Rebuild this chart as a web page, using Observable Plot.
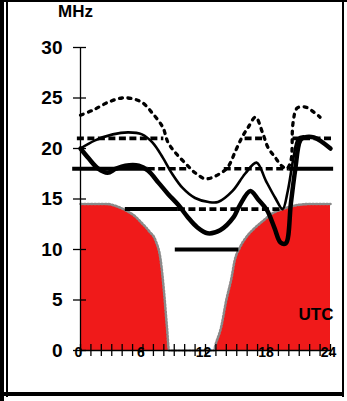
<!DOCTYPE html>
<html>
<head>
<meta charset="utf-8">
<script src="https://cdn.jsdelivr.net/npm/d3@7"></script>
<script src="https://cdn.jsdelivr.net/npm/@observablehq/plot@0.6"></script>
<style>
  html, body { margin: 0; padding: 0; background: #fff; }
  #wrap { position: relative; width: 347px; height: 401px; overflow: hidden; background: #fff; }
  #wrap svg { position: absolute; left: 0; top: 0; }
  .b { position: absolute; background: #000; }
</style>
</head>
<body>
<div id="wrap">
  <div id="chart"></div>
  <div class="b" style="left:0;top:0;width:347px;height:2px"></div>
  <div class="b" style="left:0;top:0;width:4px;height:401px"></div>
  <div class="b" style="left:6px;top:0;width:2px;height:397px"></div>
  <div class="b" style="left:342px;top:0;width:2px;height:397px"></div>
  <div class="b" style="left:0;top:392px;width:344px;height:4px"></div>
</div>
<script>
// ---- data ----
const hourTicks = d3.range(0, 25);
const hourLabels = [0, 6, 12, 18, 24];
const mhzTicks = [0, 5, 10, 15, 20, 25, 30];

// red area (lowest usable frequency)
const lufHour = [0, 1, 2, 2.6, 3.4, 4.3, 5.1, 5.9, 6.6, 7.2, 7.7, 8.0, 8.3, 8.5, 12.8, 13.0, 13.5, 14.0, 14.5, 14.8, 15.3, 15.9, 16.7, 17.6, 18.3, 19.1, 20.0, 20.8, 22.0, 24.0];
const lufMHz  = [14.5, 14.5, 14.5, 14.5, 14.3, 13.9, 13.4, 12.6, 11.8, 10.9, 8.9, 6.0, 2.3, 0, 0, 0.7, 2.3, 5.0, 7.2, 8.9, 10.2, 11.2, 12.1, 12.9, 13.5, 13.9, 14.2, 14.4, 14.5, 14.5];

// dotted curve (MUF)
const mufHour = [0, 1.2, 2.7, 4.0, 5.1, 6.0, 6.9, 7.9, 8.4, 9.1, 10.1, 11.0, 12.0, 13.0, 14.1, 14.9, 15.5, 16.1, 16.8, 17.5, 18.0, 18.7, 19.3, 19.8, 20.2, 20.4, 20.8, 21.6, 22.4, 23.0];
const mufMHz  = [23.3, 23.8, 24.6, 25.0, 24.9, 24.5, 23.5, 22.1, 20.6, 19.6, 18.5, 17.6, 17.0, 17.3, 18.1, 19.8, 21.1, 22.1, 23.1, 21.5, 20.1, 19.1, 18.3, 18.0, 18.8, 22.5, 24.0, 24.1, 23.6, 23.1];

// thin solid curve
const fotHour = [0, 1.4, 3.1, 4.6, 5.9, 6.9, 7.9, 8.8, 9.8, 11.0, 12.3, 13.2, 14.6, 15.8, 16.9, 17.8, 18.7, 19.4, 19.9, 20.4, 20.9, 21.4];
const fotMHz  = [20.0, 20.8, 21.4, 21.6, 21.4, 20.6, 19.1, 17.5, 16.1, 15.1, 14.7, 14.7, 15.8, 17.5, 18.6, 16.8, 15.1, 14.0, 15.8, 18.8, 21.0, 21.2];

// thick solid curve
const lowHour = [0, 0.8, 1.7, 2.6, 3.4, 4.3, 5.6, 6.5, 7.5, 8.4, 9.4, 10.3, 11.2, 12.2, 13.4, 14.7, 15.2, 16.3, 17.1, 17.9, 18.6, 19.2, 19.7, 20.2, 20.6, 21.1, 21.5, 22.4, 24.0];
const lowMHz  = [20.0, 19.0, 18.0, 17.6, 18.0, 18.3, 18.3, 17.8, 16.6, 15.5, 14.4, 13.2, 12.2, 11.6, 11.9, 13.2, 14.2, 15.8, 14.9, 13.9, 12.2, 10.7, 10.6, 14.6, 17.8, 20.8, 21.1, 21.1, 20.0];

// band segments [startHour, endHour, MHz]
const dashedBands = [[-0.3, 8.0, 21], [15.8, 17.7, 21], [20.4, 24.2, 21], [6.5, 10.3, 18], [13.8, 20.0, 18], [9.4, 19.5, 14]];
const solidBands  = [[-0.75, 6.5, 18], [20.0, 24.3, 18], [4.3, 9.4, 14], [9.1, 15.2, 10]];

// ---- build tables ----
const zip = (hs, vs) => hs.map((h, i) => ({h, v: vs[i]}));
const luf = zip(lufHour, lufMHz);
const muf = zip(mufHour, mufMHz);
const fot = zip(fotHour, fotMHz);
const low = zip(lowHour, lowMHz);

const font = "'Liberation Sans', Arial, Helvetica, sans-serif";

const chart = Plot.plot({
  width: 347,
  height: 401,
  marginLeft: 80,
  marginRight: 17,
  marginTop: 47,
  marginBottom: 51,
  x: {domain: [0, 24]},
  y: {domain: [0, 30]},
  style: {fontFamily: font, background: "transparent", overflow: "visible", color: "#000"},
  marks: [
    Plot.areaY(luf, {x: "h", y: "v", fill: "#f01a1a", curve: "monotone-x"}),
    Plot.line(luf, {x: "h", y: "v", stroke: "#8a8a8a", strokeWidth: 2.6, strokeDasharray: "1.5,2", curve: "monotone-x"}),
    Plot.ruleY(dashedBands, {y: d => d[2], x1: d => d[0], x2: d => d[1], stroke: "#000", strokeWidth: 3.6, strokeDasharray: "7,3.5"}),
    Plot.ruleY(solidBands, {y: d => d[2], x1: d => d[0], x2: d => d[1], stroke: "#000", strokeWidth: 4}),
    Plot.line(muf, {x: "h", y: "v", stroke: "#000", strokeWidth: 3.3, strokeDasharray: "3,5.5", curve: "catmull-rom"}),
    Plot.line(fot, {x: "h", y: "v", stroke: "#000", strokeWidth: 2.6, curve: "catmull-rom"}),
    Plot.line(low, {x: "h", y: "v", stroke: "#000", strokeWidth: 4.5, curve: "catmull-rom"}),
    // axes
    Plot.ruleX([0], {y1: 0, y2: 30, stroke: "#000", strokeWidth: 1.3}),
    Plot.ruleY([0], {stroke: "#000", strokeWidth: 1.5}),
    Plot.axisY(mhzTicks, {tickSize: 13, dx: 6, tickPadding: 11, fontSize: 19, fontWeight: "bold", label: null, strokeWidth: 1.3}),
    Plot.axisX(hourTicks, {tickSize: 12, dy: -6, tickFormat: () => "", label: null, strokeWidth: 1.3}),
    Plot.axisX(hourLabels, {tickSize: 0, tickPadding: -3, dx: -2, fontSize: 14, fontWeight: "bold", label: null}),
    Plot.text(["MHz"], {frameAnchor: "top-left", dx: -5, dy: -31, textAnchor: "middle", lineAnchor: "bottom", fontSize: 17, fontWeight: "bold"}),
    Plot.text(["UTC"], {frameAnchor: "bottom-right", dx: 3, dy: -31, textAnchor: "end", lineAnchor: "bottom", fontSize: 17, fontWeight: "bold"})
  ]
});
document.getElementById("chart").appendChild(chart);
</script>
</body>
</html>
